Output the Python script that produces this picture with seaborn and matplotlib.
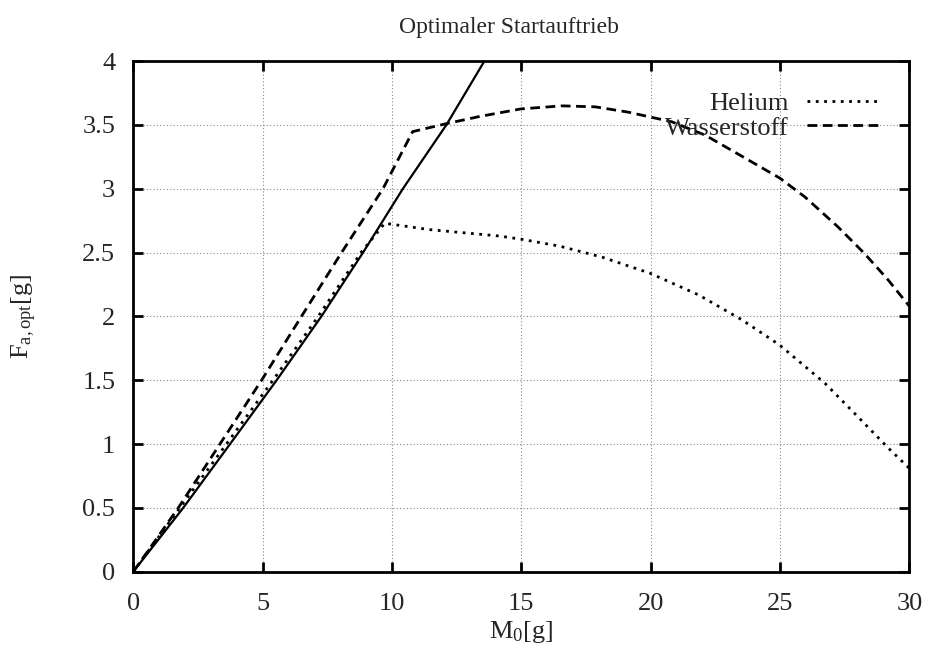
import numpy as np
import pandas as pd
import matplotlib
matplotlib.use('Agg')
import matplotlib.pyplot as plt
import seaborn as sns
from matplotlib.ticker import FuncFormatter

# values
ref_x = [0, 1.93, 3.74, 5.54, 7.27, 8.88, 10.42, 12.1, 13.57]
ref_y = [0, 0.5, 1.0, 1.5, 2.0, 2.5, 3.0, 3.5, 4.0]

helium_x = [0, 1.8, 3.6, 5.4, 7.15, 8.8, 9.72, 11.46, 14.15, 15, 16.5,
            18.13, 19.97, 21.86, 23.53, 24.98, 26.74, 28.03, 29.18, 30]
helium_y = [0, 0.5, 1.0, 1.5, 2.0, 2.5, 2.73, 2.68, 2.63, 2.605, 2.55,
            2.464, 2.339, 2.168, 1.973, 1.777, 1.476, 1.21, 0.97, 0.81]

h2_x = [0, 1.74, 3.35, 4.96, 6.5, 8.05, 9.65, 10.8, 12.09, 13.37, 14.98,
        16.58, 17.87, 19.15, 20.82, 22.11, 23.4, 25.0, 25.97, 27.25,
        28.28, 29.18, 30]
h2_y = [0, 0.5, 1.0, 1.5, 2.0, 2.5, 3.0, 3.448, 3.51, 3.566, 3.626,
        3.65, 3.642, 3.60, 3.525, 3.42, 3.27, 3.083, 2.935, 2.70,
        2.49, 2.286, 2.08]

sns.set_style('ticks')
plt.rcParams['font.family'] = ['Liberation Serif', 'DejaVu Serif']
plt.rcParams['mathtext.fontset'] = 'custom'
plt.rcParams['mathtext.rm'] = 'Liberation Serif'
plt.rcParams['mathtext.it'] = 'Liberation Serif:italic'

fig = plt.figure(figsize=(9.32, 6.6), dpi=100)
ax = fig.add_axes([0.143, 0.1338, 0.8327, 0.7735])

ax.grid(True, color='#888888', linestyle=(0, (1, 2)), linewidth=0.8)
ax.set_axisbelow(True)

sns.lineplot(x=ref_x, y=ref_y, ax=ax, color='black', linewidth=1.6, sort=False)
sns.lineplot(x=helium_x, y=helium_y, ax=ax, color='black', linewidth=2.0,
             linestyle=(0, (1, 2)), sort=False, label='Helium')
sns.lineplot(x=h2_x, y=h2_y, ax=ax, color='black', linewidth=2.0,
             linestyle=(0, (3.5, 2)), sort=False, label='Wasserstoff')

ax.set_xlim(0, 30)
ax.set_ylim(0, 4)
ax.set_xticks([0, 5, 10, 15, 20, 25, 30])
ax.set_yticks([0, 0.5, 1, 1.5, 2, 2.5, 3, 3.5, 4])
ax.yaxis.set_major_formatter(FuncFormatter(lambda v, p: f'{v:g}'))

ax.tick_params(direction='in', length=7, width=2, labelsize=19,
               top=True, right=True, pad=13, color='black')
ax.tick_params(axis='x', pad=15)
for s in ax.spines.values():
    s.set_linewidth(2)
    s.set_color('black')

ax.set_xlabel(r'M$_0$[g]', fontsize=19, labelpad=3)
ax.set_ylabel(r'F$_{\mathrm{a,opt}}$[g]', fontsize=19, labelpad=31)
ax.set_title('Optimaler Startauftrieb', fontsize=17, pad=20, x=0.484)

ax.legend(loc='upper right', bbox_to_anchor=(0.96, 0.94), frameon=False,
          markerfirst=False, fontsize=19, handlelength=2.7,
          handletextpad=0.7, labelspacing=0.03, borderpad=0, borderaxespad=0)

fig.savefig('out.png', dpi=100)
